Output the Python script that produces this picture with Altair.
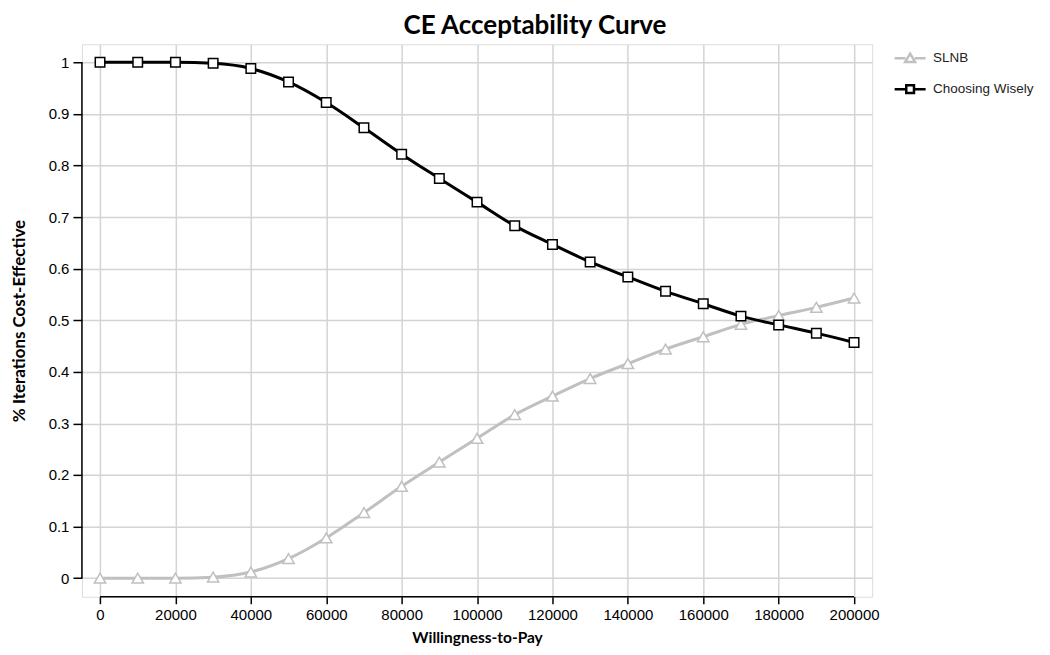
import altair as alt
import pandas as pd

wtp = [0, 10000, 20000, 30000, 40000, 50000, 60000, 70000, 80000, 90000, 100000,
       110000, 120000, 130000, 140000, 150000, 160000, 170000, 180000, 190000, 200000]
slnb = [0.0, 0.0, 0.0, 0.002, 0.012, 0.038, 0.078, 0.127, 0.178, 0.225, 0.271,
        0.317, 0.353, 0.387, 0.416, 0.444, 0.468, 0.492, 0.509, 0.525, 0.543]
choosing = [1.0, 1.0, 1.0, 0.998, 0.988, 0.962, 0.922, 0.873, 0.822, 0.775, 0.729,
            0.683, 0.647, 0.613, 0.584, 0.556, 0.532, 0.508, 0.491, 0.475, 0.457]
series_names = ["SLNB", "Choosing Wisely"]
series_colors = ["#c0c0c0", "#000000"]
x_ticks = [0, 20000, 40000, 60000, 80000, 100000, 120000, 140000, 160000, 180000, 200000]
y_ticks = [0, 0.1, 0.2, 0.3, 0.4, 0.5, 0.6, 0.7, 0.8, 0.9, 1.0]

df = pd.DataFrame({
    "wtp": wtp * 2,
    "value": slnb + choosing,
    "series": ["SLNB"] * len(wtp) + ["Choosing Wisely"] * len(wtp),
})

W, H = 791, 553
LABEL_FONT = "Liberation Sans"
TITLE_FONT = "Lato"

xscale = alt.Scale(domain=[-4800, 204800], nice=False, zero=False)
yscale = alt.Scale(domain=[-0.036, 1.035], nice=False, zero=False)

xenc = alt.X("wtp:Q", scale=xscale, axis=alt.Axis(
    values=x_ticks, format="d", domain=False, grid=True, gridColor="#d4d4d4", gridWidth=1.5,
    tickColor="#000", tickWidth=1.5, tickSize=7, labelFont=LABEL_FONT, labelFontSize=15,
    labelColor="#000", labelPadding=4, title="Willingness-to-Pay", titleFont=TITLE_FONT,
    titleFontSize=15.5, titleFontWeight="bold", titleColor="#000", titlePadding=8))
yenc = alt.Y("value:Q", scale=yscale, axis=alt.Axis(
    values=y_ticks, format=".1~f", domain=False, grid=True, gridColor="#d4d4d4", gridWidth=1.5,
    tickColor="#000", tickWidth=1.5, tickSize=9, labelFont=LABEL_FONT, labelFontSize=15,
    labelColor="#000", labelPadding=4, title="% Iterations Cost-Effective", titleFont=TITLE_FONT,
    titleFontSize=17, titleFontWeight="bold", titleColor="#000", titlePadding=20))

base = alt.Chart(df)

specs = [("SLNB", series_colors[0], "triangle-up", 130),
         ("Choosing Wisely", series_colors[1], "square", 90)]
layers = []
for name, col, shp, sz in specs:
    sub = base.transform_filter(alt.datum.series == name)
    layers.append(sub.mark_line(interpolate="monotone", strokeWidth=3, color=col).encode(x=xenc, y=yenc))
for name, col, shp, sz in specs:
    sub = base.transform_filter(alt.datum.series == name)
    layers.append(sub.mark_point(shape=shp, size=sz, filled=True, fill="white", stroke=col,
                                 strokeWidth=1.5, opacity=1).encode(x=xenc, y=yenc))

tri_path = "M-1,0H-0.3M0.3,0H1M0,-0.3L0.32,0.24L-0.32,0.24Z"
sq_path = "M-1,0H-0.25M0.25,0H1M-0.25,-0.25H0.25V0.25H-0.25Z"

legend_layer = base.transform_filter("false").mark_point(filled=True, fill="white", opacity=1, strokeWidth=2.5).encode(
    x=xenc, y=yenc,
    stroke=alt.Stroke("series:N", scale=alt.Scale(domain=series_names, range=series_colors),
                      legend=alt.Legend(title=None, orient="none", legendX=812, legendY=-3,
                                        symbolSize=961, symbolStrokeWidth=2.5, symbolFillColor="white",
                                        labelFont=LABEL_FONT, labelFontSize=13.5, labelColor="#222",
                                        rowPadding=5, labelOffset=6, padding=0)),
    shape=alt.Shape("series:N", scale=alt.Scale(domain=series_names, range=[tri_path, sq_path]),
                    legend=alt.Legend(title=None, orient="none", legendX=812, legendY=-3)),
)

xaxis_line = alt.Chart(pd.DataFrame({"a": [0], "b": [200000]})).mark_rule(color="#000", strokeWidth=1.5).encode(
    x=alt.X("a:Q", scale=xscale), x2="b:Q", y=alt.value(H))
yaxis_line = alt.Chart(pd.DataFrame({"a": [0.0], "b": [1.0]})).mark_rule(color="#000", strokeWidth=1.5).encode(
    y=alt.Y("a:Q", scale=yscale), y2="b:Q", x=alt.value(0))

chart = alt.layer(*layers, legend_layer, xaxis_line, yaxis_line).properties(
    width=W, height=H,
    title=alt.TitleParams("CE Acceptability Curve", font=TITLE_FONT, fontSize=26, fontWeight="bold",
                          color="#000", anchor="middle", dx=58, offset=2),
    padding={"left": 74, "top": 36, "right": 170, "bottom": 50},
    autosize=alt.AutoSizeParams(type="none"),
).configure_view(stroke=None).configure(background="white")

chart.save("out.html", embed_options={"renderer": "svg", "actions": False})
